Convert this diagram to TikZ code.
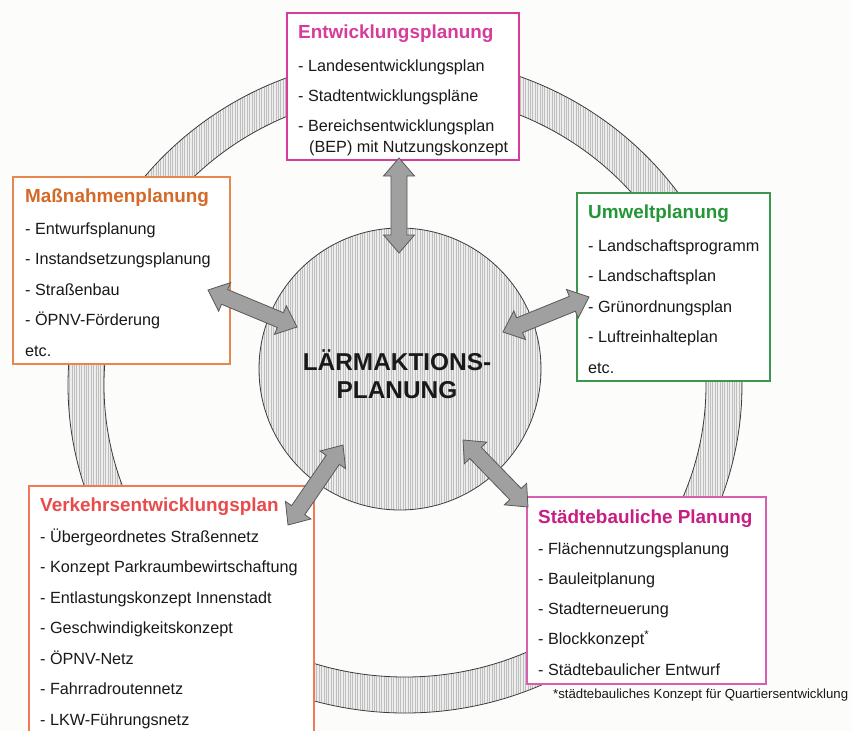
\documentclass[tikz,border=0pt]{standalone}
\usepackage{fontspec}
\setmainfont{Liberation Sans}
\usetikzlibrary{calc,patterns.meta}
\definecolor{planpink}{RGB}{214,60,155}
\definecolor{planorange}{RGB}{230,135,80}
\definecolor{planbrown}{RGB}{212,105,40}
\definecolor{plangreen}{RGB}{60,150,80}
\definecolor{plantitlegreen}{RGB}{35,150,55}
\definecolor{planred}{RGB}{242,120,90}
\definecolor{plantitlered}{RGB}{232,75,75}
\definecolor{planmagenta}{RGB}{215,95,175}
\definecolor{plantitlemagenta}{RGB}{200,30,130}
\definecolor{ringgray}{RGB}{60,60,60}
\definecolor{arrowgray}{RGB}{160,160,160}
\definecolor{paper}{RGB}{252,252,250}
\definecolor{ink}{RGB}{25,25,25}
\newcommand\blockarrow[2]{%
  \draw[bigarrow] (#1) -- ($(#1)!23.75pt!40.73:(#2)$) -- ($(#1)!19.7pt!23.96:(#2)$)
    -- ($(#2)!19.7pt!-23.96:(#1)$) -- ($(#2)!23.75pt!-40.73:(#1)$) -- (#2)
    -- ($(#2)!23.75pt!40.73:(#1)$) -- ($(#2)!19.7pt!23.96:(#1)$)
    -- ($(#1)!19.7pt!-23.96:(#2)$) -- ($(#1)!23.75pt!-40.73:(#2)$) -- cycle;}

\begin{document}
\begin{tikzpicture}[x=1pt,y=-1pt,
  box/.style={draw,line width=1.3pt,fill=white,inner sep=0pt,outer sep=0pt},
  head/.style={anchor=base west,inner sep=0pt,font=\bfseries\fontsize{18.9}{20}\selectfont},
  item/.style={anchor=base west,inner sep=0pt,text=ink,font=\fontsize{16.2}{18}\selectfont},
  hatch/.style={preaction={fill=gray!14,even odd rule},even odd rule,
    pattern={Lines[angle=90,distance=2.4pt,line width=0.8pt]},pattern color=gray!50,
    draw=ringgray,line width=0.8pt},
  bigarrow/.style={fill=arrowgray,draw=black!65,line width=0.8pt,line join=miter}]
\clip (0,0) rectangle (852,731);
\fill[paper] (0,0) rectangle (852,731);
\path[hatch] (405,385) ellipse [x radius=337pt, y radius=328pt] (405,385) ellipse [x radius=301pt, y radius=292pt];

\node (ent) [box, draw=planpink, minimum width=232pt, minimum height=147pt] at (403,86.5) {};
\node (mass) [box, draw=planorange, minimum width=217pt, minimum height=187pt] at (121.5,270.5) {};
\node (umw) [box, draw=plangreen, minimum width=193pt, minimum height=188pt] at (673.5,287) {};
\node (verk) [box, draw=planred, minimum width=285pt, minimum height=274pt] at (171.5,623) {};
\node (stb) [box, draw=planmagenta, minimum width=239pt, minimum height=187pt] at (646.5,590.5) {};

\node (lap) [circle, hatch, minimum size=282pt, inner sep=0pt] at (400,369) {};
\node (laptext) [align=center, text=ink, font=\bfseries\fontsize{24.4}{28}\selectfont] at (397,374) {LÄRMAKTIONS-\\PLANUNG};

\node (entT) [head, text=planpink] at (298,38) {Entwicklungsplanung};
\foreach \t [count=\i] in {Landesentwicklungsplan, Stadtentwicklungspläne, Bereichsentwicklungsplan}
  \node (ent\i) [item] at (298,40.6+30.4*\i) {- \t};
\node (ent4) [item] at (309,152) {(BEP) mit Nutzungskonzept};

\node (massT) [head, text=planbrown] at (25,202) {Maßnahmenplanung};
\foreach \t [count=\i] in {- Entwurfsplanung, - Instandsetzungsplanung, - Straßenbau, - ÖPNV-Förderung, etc.}
  \node (mass\i) [item] at (25,203.4+30.6*\i) {\t};

\node (umwT) [head, text=plantitlegreen] at (588,218) {Umweltplanung};
\foreach \t [count=\i] in {- Landschaftsprogramm, - Landschaftsplan, - Grünordnungsplan, - Luftreinhalteplan, etc.}
  \node (umw\i) [item] at (588,220.5+30.5*\i) {\t};

\node (verkT) [head, text=plantitlered] at (40,511) {Verkehrsentwicklungsplan};
\foreach \t [count=\i] in {Übergeordnetes Straßennetz, Konzept Parkraumbewirtschaftung, Entlastungskonzept Innenstadt, Geschwindigkeitskonzept, ÖPNV-Netz, Fahrradroutennetz, LKW-Führungsnetz}
  \node (verk\i) [item] at (40,511.5+30.5*\i) {- \t};

\node (stbT) [head, text=plantitlemagenta] at (538,523) {Städtebauliche Planung};
\foreach \t [count=\i] in {Flächennutzungsplanung, Bauleitplanung, Stadterneuerung, Blockkonzept\textsuperscript{*}, Städtebaulicher Entwurf}
  \node (stb\i) [item] at (538,524.5+30.1*\i) {- \t};
\node (note) [item, font=\fontsize{13.2}{15}\selectfont] at (553,698) {*städtebauliches Konzept für Quartiersentwicklung};

\coordinate (entA) at (399,158);
\coordinate (lapN) at (399,253);
\coordinate (massA) at (208,290);
\coordinate (lapW) at (297,327);
\coordinate (umwA) at (589,297);
\coordinate (lapE) at (503,332);
\coordinate (verkA) at (288,525);
\coordinate (lapSW) at (343,445);
\coordinate (stbA) at (528,507);
\coordinate (lapSE) at (463,440);
\blockarrow{entA}{lapN}
\blockarrow{massA}{lapW}
\blockarrow{umwA}{lapE}
\blockarrow{verkA}{lapSW}
\blockarrow{stbA}{lapSE}
\end{tikzpicture}
\end{document}
